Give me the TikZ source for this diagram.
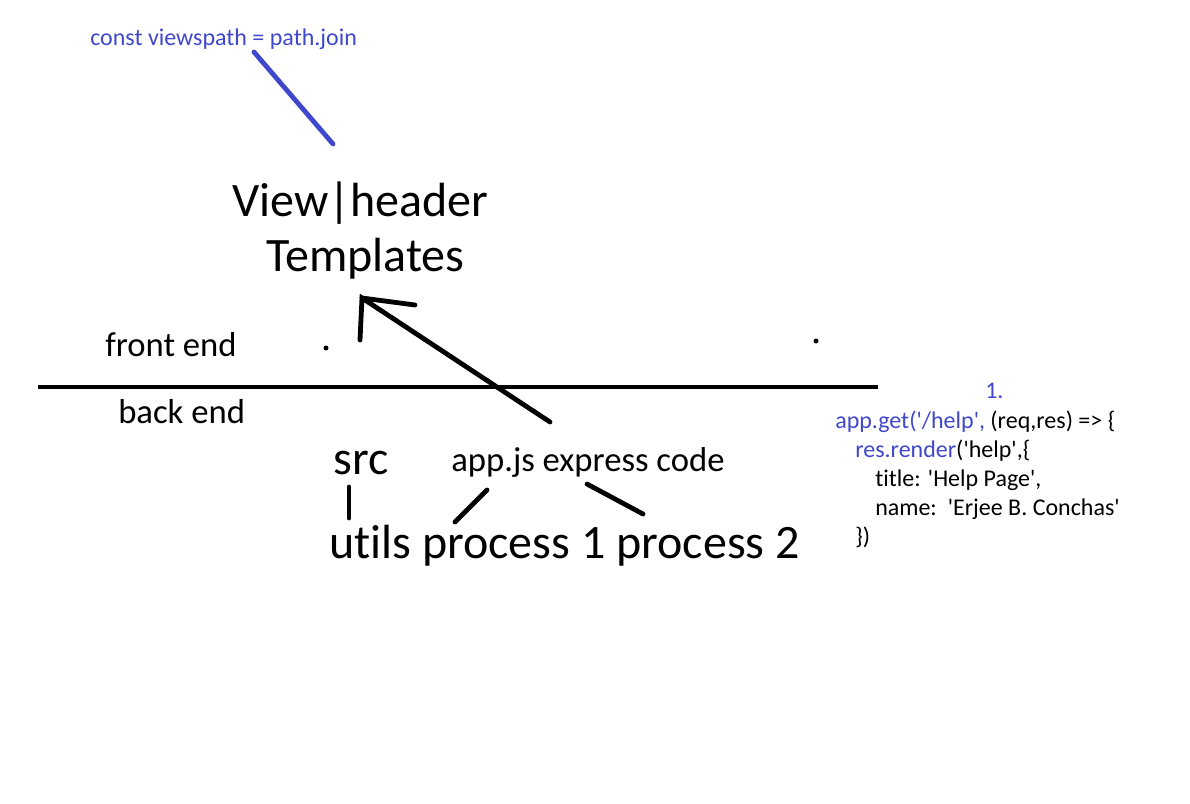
\documentclass[tikz,border=0pt]{standalone}
\usepackage{fontspec}
\setmainfont{Carlito}[Ligatures={TeXOff,NoCommon}]
\definecolor{pen}{RGB}{63,72,204}
\newcommand{\fs}[1]{\fontsize{#1}{1.2\dimexpr#1\relax}\selectfont}

\begin{document}
\begin{tikzpicture}[x=0.75pt,y=-0.75pt,
  txt/.style={inner sep=0pt,anchor=base west},
  code/.style={txt,font=\fs{18pt}},
  stroke/.style={line width=3.6pt,line cap=round}]
\useasboundingbox (0,0) rectangle (1190,804);
% texts
\node[txt,font=\fs{18pt},text=pen] (viewspath) at (90,45) {const viewspath = path.join};
\node[txt,font=\fs{36pt}] (view) at (232,216) {View|header};
\node[txt,font=\fs{36pt}] (templates) at (266,271) {Templates};
\node[txt,font=\fs{26pt}] (front) at (105,356) {front end};
\node[txt,font=\fs{26pt}] (back) at (118,423) {back end};
\node[txt,font=\fs{36pt}] (src) at (333,474) {src};
\node[txt,font=\fs{26pt}] (appjs) at (451,471) {app.js express code};
\node[txt,font=\fs{36pt}] (utils) at (329,558) {utils process 1 process 2};
% code block
\node[code,text=pen] (num) at (985,398) {1.};
\node[code] (get) at (835,428) {\textcolor{pen}{app.get('/help',} (req,res) => \{};
\node[code] (render) at (855,457) {\textcolor{pen}{res.render}('help',\{};
\node[code] (title) at (875,486) {title: 'Help Page',};
\node[code] (name) at (875,515) {name:\ \ 'Erjee B. Conchas'};
\node[code] (close) at (855,544) {\})};
% divider and dots
\coordinate (divl) at (38,387);
\coordinate (divr) at (878,387);
\draw[line width=3.6pt] (divl) -- (divr);
\fill (326,348) circle (2.5);
\fill (816,341) circle (2.5);
% blue stroke
\coordinate (bluea) at (254,52);
\coordinate (blueb) at (333,144);
\draw[stroke,pen] (bluea) -- (blueb);
% arrow to templates
\coordinate (tail) at (550,422);
\coordinate (tip) at (362,298);
\coordinate (barbl) at (360,340);
\coordinate (barbr) at (415,305);
\draw[stroke] (tail) -- (tip) -- (barbl);
\draw[stroke] (tip) -- (barbr);
% tree strokes
\coordinate (srcbot) at (349,487);
\coordinate (utilstop) at (349,518);
\coordinate (appa) at (487,490);
\coordinate (pa) at (455,522);
\coordinate (appb) at (587,484);
\coordinate (pb) at (643,514);
\draw[stroke] (srcbot) -- (utilstop);
\draw[stroke] (appa) -- (pa);
\draw[stroke] (appb) -- (pb);
\end{tikzpicture}
\end{document}
